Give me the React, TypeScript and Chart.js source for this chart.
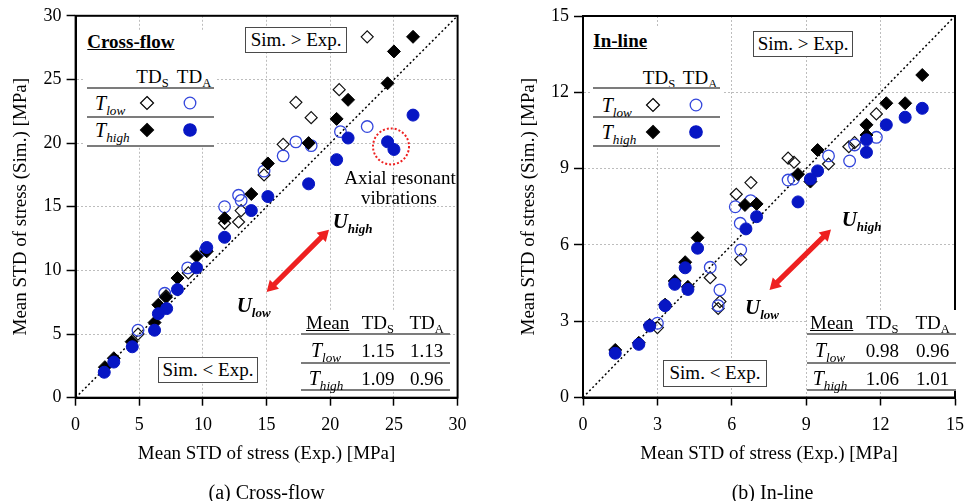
import React, { useEffect, useRef } from 'react';
import { Chart, registerables } from 'chart.js';

Chart.register(...registerables);

type Pt = [number, number];

// ---------- (a) Cross-flow data ----------
const cfTdsLow: Pt[] = [[22.9,28.35],[20.7,24.2],[17.3,23.2],[18.5,22.0],[16.3,19.9],[14.8,17.5],[13.0,14.7],[12.8,13.8],[11.7,13.7],[8.85,9.8],[7.1,8.0],[4.9,5.0]];
const cfTdsHigh: Pt[] = [[26.5,28.35],[25.0,27.2],[24.5,24.7],[21.4,23.4],[20.5,21.9],[18.3,20.0],[15.1,18.4],[13.8,16.0],[11.7,14.1],[10.3,11.5],[9.5,11.1],[8.0,9.4],[7.1,7.9],[6.5,7.3],[6.2,5.9],[4.4,4.4],[3.0,3.1],[2.3,2.4]];
const cfTdaLow: Pt[] = [[22.9,21.3],[20.8,20.9],[17.3,20.1],[18.5,19.8],[16.3,19.0],[14.8,17.8],[12.8,15.9],[13.0,15.5],[11.7,15.0],[10.2,11.6],[8.8,10.2],[7.0,8.2],[4.9,5.3]];
const cfTdaHigh: Pt[] = [[26.5,22.2],[21.4,20.4],[24.5,20.1],[25.0,19.5],[20.5,18.7],[18.3,16.8],[15.1,15.8],[13.8,14.7],[11.7,12.6],[10.3,11.8],[9.5,10.2],[8.0,8.5],[7.15,7.0],[6.5,6.6],[6.2,5.3],[4.45,4.0],[3.0,2.8],[2.25,2.0]];
const cfTicks = [0, 5, 10, 15, 20, 25, 30];
const cfMeanLow = ['1.15', '1.13'];
const cfMeanHigh = ['1.09', '0.96'];

// ---------- (b) In-line data ----------
const ilTdsLow: Pt[] = [[6.77,8.45],[6.18,7.99],[11.83,11.15],[10.72,9.86],[10.95,10.02],[9.9,9.18],[8.27,9.41],[8.51,9.25],[6.36,5.43],[5.13,4.71],[5.52,3.77],[5.45,3.5],[3.0,2.75]];
const ilTdsHigh: Pt[] = [[13.68,12.68],[12.23,11.57],[12.99,11.57],[11.43,10.72],[11.43,10.32],[9.46,9.73],[9.17,8.49],[8.67,8.78],[7.0,7.61],[6.53,7.57],[4.62,6.28],[4.12,5.32],[3.7,4.58],[4.23,4.35],[3.31,3.65],[2.69,2.85],[2.25,2.15],[1.3,1.87]];
const ilTdaLow: Pt[] = [[11.83,10.23],[10.95,9.93],[10.75,9.3],[9.9,9.5],[8.27,8.55],[8.49,8.59],[6.76,7.74],[6.14,7.5],[6.34,6.85],[6.36,5.8],[5.13,5.12],[5.52,4.23],[5.45,3.61],[3.0,2.92]];
const ilTdaHigh: Pt[] = [[13.68,11.37],[12.99,11.02],[12.23,10.72],[11.43,10.13],[11.43,9.64],[9.46,8.91],[9.17,8.59],[8.67,7.69],[7.0,7.11],[6.57,6.63],[4.62,5.87],[4.12,5.1],[3.7,4.45],[4.23,4.25],[3.31,3.61],[2.69,2.81],[2.25,2.09],[1.3,1.74]];
const ilTicks = [0, 3, 6, 9, 12, 15];
const ilMeanLow = ['0.98', '0.96'];
const ilMeanHigh = ['1.06', '1.01'];

const X_TITLE = 'Mean STD of stress (Exp.) [MPa]';
const Y_TITLE = 'Mean STD of stress (Sim.) [MPa]';

const FONT = '"Liberation Serif", "Times New Roman", Times, serif';
const BLUE = '#0716c4';
const BLUE_L = '#3447dc';
const RED = '#ee2020';

Chart.defaults.font.family = FONT;
Chart.defaults.color = '#000';

type PanelCfg = {
  width: number;
  ticks: number[];
  tdsLow: Pt[]; tdsHigh: Pt[]; tdaLow: Pt[]; tdaHigh: Pt[];
  padTop: number; padRight: number; yAxisW: number; xAxisH: number; yTitlePad: number;
  arrow: [number, number, number, number];
  ring?: [number, number, number];
};

function drawDoubleArrow(ctx: CanvasRenderingContext2D, x1: number, y1: number, x2: number, y2: number) {
  const dx = x2 - x1, dy = y2 - y1;
  const L = Math.hypot(dx, dy);
  const ux = dx / L, uy = dy / L, px = -uy, py = ux;
  const hl = 11, hw = 6.5, sw = 2.6;
  const p = (t: number, w: number): [number, number] => [x1 + ux * t + px * w, y1 + uy * t + py * w];
  const pts = [p(0, 0), p(hl, hw), p(hl, sw), p(L - hl, sw), p(L - hl, hw), p(L, 0), p(L - hl, -hw), p(L - hl, -sw), p(hl, -sw), p(hl, -hw)];
  ctx.beginPath();
  pts.forEach(([x, y], i) => (i ? ctx.lineTo(x, y) : ctx.moveTo(x, y)));
  ctx.closePath();
  ctx.fillStyle = RED;
  ctx.fill();
}

function makeChart(canvas: HTMLCanvasElement, cfg: PanelCfg) {
  const max = cfg.ticks[cfg.ticks.length - 1];
  const min = cfg.ticks[0];
  const mk = (pts: Pt[]) => pts.map(([x, y]) => ({ x, y }));
  const axisCommon = (isX: boolean) => ({
    type: 'linear' as const,
    min,
    max,
    afterBuildTicks: (s: any) => { s.ticks = cfg.ticks.map((v) => ({ value: v })); },
    ticks: { font: { size: 18, family: FONT }, color: '#000', padding: isX ? 9 : 5 },
    grid: { color: '#bdbdbd', lineWidth: 1, tickColor: '#000', tickLength: isX ? 8 : 9, tickWidth: 1.5 },
    border: { display: true, color: '#000', width: 2, dash: [2, 2] },
    title: {
      display: true,
      text: isX ? X_TITLE : Y_TITLE,
      font: { size: 19, family: FONT },
      color: '#000',
      padding: isX ? { top: 0, bottom: 35.6 } : { top: cfg.yTitlePad, bottom: 0 },
    },
  });
  const frame = {
    id: 'frameAndMarks',
    afterDatasetsDraw(chart: any) {
      const { ctx, chartArea: a, scales } = chart;
      const xs = scales.x, ys = scales.y;
      ctx.save();
      const [ax1, ay1, ax2, ay2] = cfg.arrow;
      drawDoubleArrow(ctx, xs.getPixelForValue(ax1), ys.getPixelForValue(ay1), xs.getPixelForValue(ax2), ys.getPixelForValue(ay2));
      if (cfg.ring) {
        const [rx, ry, rr] = cfg.ring;
        ctx.beginPath();
        ctx.setLineDash([2, 2]);
        ctx.strokeStyle = RED;
        ctx.lineWidth = 2;
        ctx.arc(xs.getPixelForValue(rx), ys.getPixelForValue(ry), rr, 0, Math.PI * 2);
        ctx.stroke();
      }
      ctx.setLineDash([]);
      ctx.strokeStyle = '#000';
      ctx.lineWidth = 2;
      ctx.strokeRect(a.left, a.top, a.right - a.left, a.bottom - a.top);
      ctx.restore();
    },
  };
  return new Chart(canvas, {
    type: 'scatter',
    data: {
      datasets: [
        { label: 'TDA high', data: mk(cfg.tdaHigh), pointStyle: 'circle', pointRadius: 6, backgroundColor: BLUE, borderColor: BLUE, borderWidth: 1 },
        { label: 'TDS high', data: mk(cfg.tdsHigh), pointStyle: 'rectRot', pointRadius: 6.5, backgroundColor: '#000', borderColor: '#000', borderWidth: 1 },
        { label: 'TDA low', data: mk(cfg.tdaLow), pointStyle: 'circle', pointRadius: 5.8, backgroundColor: 'rgba(0,0,0,0)', borderColor: BLUE_L, borderWidth: 1.3 },
        { label: 'TDS low', data: mk(cfg.tdsLow), pointStyle: 'rectRot', pointRadius: 6, backgroundColor: 'rgba(0,0,0,0)', borderColor: '#111', borderWidth: 1.2 },
        { type: 'line', label: 'y=x', data: [{ x: min, y: min }, { x: max, y: max }], showLine: true, borderColor: '#000', borderWidth: 1.5, borderDash: [2, 2.5], pointRadius: 0 } as any,
      ],
    },
    options: {
      animation: false,
      responsive: false,
      devicePixelRatio: 1,
      events: [],
      layout: { padding: { left: 0, right: cfg.padRight, top: cfg.padTop, bottom: 0 } },
      plugins: { legend: { display: false }, tooltip: { enabled: false } },
      scales: {
        x: { ...axisCommon(true), afterFit: (s: any) => { s.height = cfg.xAxisH; } },
        y: { ...axisCommon(false), afterFit: (s: any) => { s.width = cfg.yAxisW; } },
      },
    } as any,
    plugins: [frame],
  });
}

// ---------- overlay helpers ----------
function Txt(props: { x: number; y: number; size?: number; align?: 'left' | 'center'; style?: any; children: any }) {
  const { x, y, size = 19, align = 'left', style, children } = props;
  return (
    <div
      style={{
        position: 'absolute', left: x, top: y - size / 2, fontSize: size, lineHeight: size + 'px',
        whiteSpace: 'nowrap', transform: align === 'center' ? 'translateX(-50%)' : 'none',
        color: '#000', fontFamily: FONT, ...style,
      }}
    >
      {children}
    </div>
  );
}
const Sub = ({ children, style }: { children: any; style?: any }) => (
  <span style={{ fontSize: '0.66em', position: 'relative', top: '0.35em', ...style }}>{children}</span>
);
const HLine = ({ x1, x2, y }: { x1: number; x2: number; y: number }) => (
  <div style={{ position: 'absolute', left: x1, top: y - 1, width: x2 - x1, height: 2, background: '#7c7c7c' }} />
);
const WhiteBg = ({ x1, x2, y1, y2 }: { x1: number; x2: number; y1: number; y2: number }) => (
  <div style={{ position: 'absolute', left: x1, top: y1, width: x2 - x1, height: y2 - y1, background: '#fff' }} />
);
const Box = ({ x1, x2, y1, y2, children }: any) => (
  <div
    style={{
      position: 'absolute', left: x1, top: y1, width: x2 - x1, height: y2 - y1, boxSizing: 'border-box',
      border: '1.5px solid #4a4a4a', background: '#fff', display: 'flex', alignItems: 'center',
      justifyContent: 'center', fontFamily: FONT, fontSize: 19, whiteSpace: 'nowrap',
    }}
  >
    {children}
  </div>
);
const Diamond = ({ cx, cy, filled }: { cx: number; cy: number; filled: boolean }) => (
  <svg style={{ position: 'absolute', left: cx - 8, top: cy - 8 }} width={16} height={16}>
    <polygon points="8,1.5 14.5,8 8,14.5 1.5,8" fill={filled ? '#000' : '#fff'} stroke="#000" strokeWidth={1.2} />
  </svg>
);
const Dot = ({ cx, cy, filled }: { cx: number; cy: number; filled: boolean }) => (
  <svg style={{ position: 'absolute', left: cx - 8, top: cy - 8 }} width={16} height={16}>
    <circle cx={8} cy={8} r={filled ? 6.2 : 5.8} fill={filled ? BLUE : '#fff'} stroke={filled ? BLUE : BLUE_L} strokeWidth={1.3} />
  </svg>
);
const TLow = () => (<><i>T</i><Sub><i>low</i></Sub></>);
const THigh = () => (<><i>T</i><Sub><i>high</i></Sub></>);
const ULabel = ({ x, y, sub }: { x: number; y: number; sub: string }) => (
  <Txt x={x} y={y} size={21} style={{ fontWeight: 'bold', fontStyle: 'italic' }}>
    U<span style={{ fontSize: 13, position: 'relative', top: 5 }}>{sub}</span>
  </Txt>
);

type LegendPos = {
  title: string; tx: number; ty: number; hy: number; sx: number; ax: number; lines: number[]; lx1: number; lx2: number;
  rows: number[]; labelX: number; dx: number; cx: number;
};
function Legend(p: LegendPos) {
  return (
    <>
      <WhiteBg x1={p.lx1 - 2} x2={p.lx2 + 2} y1={p.ty - 12} y2={p.lines[2] + 1} />
      <Txt x={p.tx} y={p.ty} size={19} style={{ fontWeight: 'bold', textDecoration: 'underline' }}>{p.title}</Txt>
      <Txt x={p.sx} y={p.hy} align="center">TD<Sub>S</Sub></Txt>
      <Txt x={p.ax} y={p.hy} align="center">TD<Sub>A</Sub></Txt>
      {p.lines.map((y, i) => <HLine key={i} x1={p.lx1} x2={p.lx2} y={y} />)}
      <Txt x={p.labelX} y={p.rows[0]} size={20}><TLow /></Txt>
      <Txt x={p.labelX} y={p.rows[1]} size={20}><THigh /></Txt>
      <Diamond cx={p.dx} cy={p.rows[0]} filled={false} />
      <Dot cx={p.cx} cy={p.rows[0]} filled={false} />
      <Diamond cx={p.dx} cy={p.rows[1]} filled />
      <Dot cx={p.cx} cy={p.rows[1]} filled />
    </>
  );
}

type MeanPos = { mx: number; hy: number; sx: number; ax: number; lines: number[]; lx1: number; lx2: number; rows: number[]; tx: number; low: string[]; high: string[] };
function MeanTable(p: MeanPos) {
  return (
    <>
      <WhiteBg x1={p.lx1} x2={p.lx2} y1={p.hy - 12} y2={p.lines[2]} />
      <Txt x={p.mx} y={p.hy} style={{ textDecoration: 'underline' }}>Mean</Txt>
      <Txt x={p.sx} y={p.hy} align="center">TD<Sub>S</Sub></Txt>
      <Txt x={p.ax} y={p.hy} align="center">TD<Sub>A</Sub></Txt>
      {p.lines.map((y, i) => <HLine key={i} x1={p.lx1} x2={p.lx2} y={y} />)}
      <Txt x={p.tx} y={p.rows[0]} size={20} align="center"><TLow /></Txt>
      <Txt x={p.tx} y={p.rows[1]} size={20} align="center"><THigh /></Txt>
      <Txt x={p.sx} y={p.rows[0]} align="center">{p.low[0]}</Txt>
      <Txt x={p.ax} y={p.rows[0]} align="center">{p.low[1]}</Txt>
      <Txt x={p.sx} y={p.rows[1]} align="center">{p.high[0]}</Txt>
      <Txt x={p.ax} y={p.rows[1]} align="center">{p.high[1]}</Txt>
    </>
  );
}

export default function App() {
  const leftRef = useRef<HTMLCanvasElement>(null);
  const rightRef = useRef<HTMLCanvasElement>(null);

  useEffect(() => {
    document.body.style.margin = '0';
    const c1 = makeChart(leftRef.current!, {
      width: 486, ticks: cfTicks, tdsLow: cfTdsLow, tdsHigh: cfTdsHigh, tdaLow: cfTdaLow, tdaHigh: cfTdaHigh,
      padTop: 15.7, padRight: 486 - 457.6, yAxisW: 75.6, xAxisH: 501 - 397.7, yTitlePad: 10,
      arrow: [15.0, 8.3, 19.9, 13.2], ring: [24.77, 19.74, 18],
    });
    const c2 = makeChart(rightRef.current!, {
      width: 487, ticks: ilTicks, tdsLow: ilTdsLow, tdsHigh: ilTdsHigh, tdaLow: ilTdaLow, tdaHigh: ilTdaHigh,
      padTop: 16, padRight: 487 - 476.3, yAxisW: 97, xAxisH: 501 - 397.5, yTitlePad: 31.6,
      arrow: [7.52, 4.23, 10.0, 6.61],
    });
    return () => { c1.destroy(); c2.destroy(); };
  }, []);

  return (
    <div style={{ position: 'relative', width: 973, height: 501, overflow: 'hidden', background: '#fff', fontFamily: FONT }}>
      <canvas ref={leftRef} width={486} height={501} style={{ position: 'absolute', left: 0, top: 0 }} />
      <canvas ref={rightRef} width={487} height={501} style={{ position: 'absolute', left: 486, top: 0 }} />

      {/* (a) Cross-flow overlays */}
      <Legend title="Cross-flow" tx={87.3} ty={41.7} hy={76} sx={152.5} ax={194} lines={[88.3, 116.7, 145.7]} lx1={87.3} lx2={214}
        rows={[103.3, 130]} labelX={95} dx={147.3} cx={190} />
      <Box x1={245} x2={347.3} y1={27.3} y2={53.3}>Sim. &gt; Exp.</Box>
      <Box x1={157.7} x2={258.3} y1={356.7} y2={382.7}>Sim. &lt; Exp.</Box>
      <Txt x={400} y={177.7} align="center">Axial resonant</Txt>
      <Txt x={399} y={197} align="center">vibrations</Txt>
      <ULabel x={332.7} y={221} sub="high" />
      <ULabel x={236.7} y={305.7} sub="low" />
      <MeanTable mx={306} hy={322.3} sx={377.8} ax={426.7} lines={[334.3, 362.7, 390]} lx1={301} lx2={450}
        rows={[350, 378]} tx={326} low={cfMeanLow} high={cfMeanHigh} />
      <Txt x={266.6} y={492} size={20} align="center">(a) Cross-flow</Txt>

      {/* (b) In-line overlays */}
      <Legend title="In-line" tx={593.3} ty={40} hy={77} sx={659} ax={700} lines={[88.3, 117.3, 145.7]} lx1={593.3} lx2={720}
        rows={[105, 132.3]} labelX={601.7} dx={653.3} cx={696} />
      <Box x1={753} x2={853.3} y1={31} y2={56.7}>Sim. &gt; Exp.</Box>
      <Box x1={663.3} x2={766.7} y1={360} y2={386.7}>Sim. &lt; Exp.</Box>
      <ULabel x={841.7} y={219} sub="high" />
      <ULabel x={745} y={307} sub="low" />
      <MeanTable mx={810} hy={322.3} sx={882.3} ax={932.7} lines={[334.3, 362.7, 390]} lx1={806.7} lx2={956}
        rows={[350, 378]} tx={830} low={ilMeanLow} high={ilMeanHigh} />
      <Txt x={772.5} y={492} size={20} align="center">(b) In-line</Txt>
    </div>
  );
}
